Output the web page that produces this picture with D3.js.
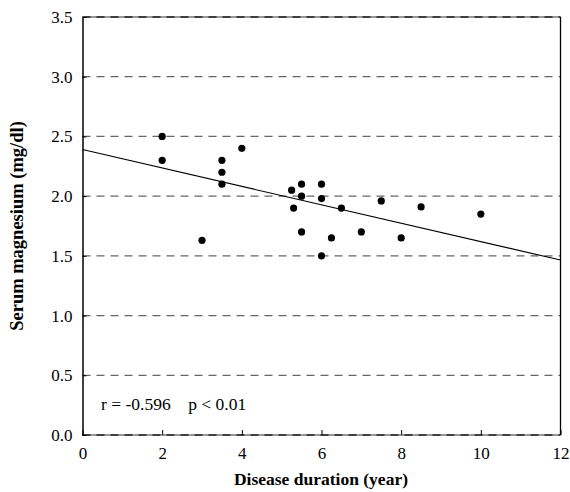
<!DOCTYPE html>
<html><head><meta charset="utf-8">
<script src="https://cdn.jsdelivr.net/npm/d3@7"></script>
<style>body{margin:0;background:#fff}svg{display:block}text{font-family:"Liberation Serif","Times New Roman",serif}</style>
</head><body>
<script>
const durations = [2, 2, 3, 3.5, 3.5, 3.5, 4, 5.25, 5.3, 5.5, 5.5, 5.5, 6, 6, 6, 6.25, 6.5, 7, 7.5, 8, 8.5, 10];
const magnesium = [2.5, 2.3, 1.63, 2.3, 2.2, 2.1, 2.4, 2.05, 1.9, 2.1, 2.0, 1.7, 2.1, 1.98, 1.5, 1.65, 1.9, 1.7, 1.96, 1.65, 1.91, 1.85];
const xTicks = [0, 2, 4, 6, 8, 10, 12];
const yTicks = [0, 0.5, 1.0, 1.5, 2.0, 2.5, 3.0, 3.5];
const fitLine = [[0, 2.39], [12, 1.465]];
const annotation = "r = -0.596    p < 0.01";
const xTitle = "Disease duration (year)";
const yTitle = "Serum magnesium (mg/dl)";

const W = 570, H = 492;
const L = 82.5, R = 560.5, T = 17, B = 435;
const svg = d3.select("body").append("svg").attr("width", W).attr("height", H);
const x = d3.scaleLinear().domain([0, 12]).range([L, R]);
const y = d3.scaleLinear().domain([0, 3.5]).range([B, T]);

// gridlines
svg.append("g").selectAll("line").data(yTicks.filter(d => d > 0 && d < 3.5)).join("line")
  .attr("x1", L).attr("x2", R).attr("y1", d => y(d)).attr("y2", d => y(d))
  .attr("stroke", "#666").attr("stroke-width", 1.3).attr("stroke-dasharray", "8,6");
// top & bottom border
[3.5, 0].forEach(v => {
  svg.append("line").attr("x1", L).attr("x2", R).attr("y1", y(v)).attr("y2", y(v))
    .attr("stroke", "#777").attr("stroke-width", 1.5);
  svg.append("line").attr("x1", L).attr("x2", R).attr("y1", y(v)).attr("y2", y(v))
    .attr("stroke", "#222").attr("stroke-width", 1.5).attr("stroke-dasharray", "8,6");
});
// right border
svg.append("line").attr("x1", R).attr("x2", R).attr("y1", T).attr("y2", B).attr("stroke", "#000").attr("stroke-width", 1.3);

// axes
const xAxis = d3.axisBottom(x).tickValues(xTicks).tickSizeInner(-5).tickSizeOuter(0).tickPadding(12).tickFormat(d3.format("d"));
const gx = svg.append("g").attr("transform", `translate(0,${B})`).call(xAxis);
gx.select(".domain").remove();
gx.selectAll(".tick line").attr("stroke", "#000");
gx.selectAll("text").attr("font-size", 17).attr("fill", "#000");

const yAxis = d3.axisLeft(y).tickValues(yTicks).tickSizeInner(-4).tickSizeOuter(0).tickPadding(10).tickFormat(d3.format(".1f"));
const gy = svg.append("g").attr("transform", `translate(${L},0)`).call(yAxis);
gy.select(".domain").attr("stroke", "#000").attr("stroke-width", 1.5);
gy.selectAll(".tick line").attr("stroke", "#000");
gy.selectAll("text").attr("font-size", 17).attr("fill", "#000");

// fit line
svg.append("line").attr("x1", x(fitLine[0][0])).attr("y1", y(fitLine[0][1]))
  .attr("x2", x(fitLine[1][0])).attr("y2", y(fitLine[1][1]))
  .attr("stroke", "#000").attr("stroke-width", 1.1);

// points
svg.append("g").selectAll("circle").data(durations.map((d, i) => [d, magnesium[i]])).join("circle")
  .attr("cx", d => x(d[0])).attr("cy", d => y(d[1])).attr("r", 3.6).attr("fill", "#000");

// annotation
svg.append("text").attr("x", 101).attr("y", 410).attr("font-size", 17.5).attr("xml:space", "preserve")
  .style("white-space", "pre").text(annotation);

// titles
svg.append("text").attr("x", 321).attr("y", 485).attr("text-anchor", "middle")
  .attr("font-size", 17.5).attr("font-weight", "bold").text(xTitle);
svg.append("text").attr("transform", `translate(23,${(T + B) / 2}) rotate(-90)`).attr("text-anchor", "middle")
  .attr("font-size", 18.5).attr("font-weight", "bold").text(yTitle);
</script>
</body></html>
